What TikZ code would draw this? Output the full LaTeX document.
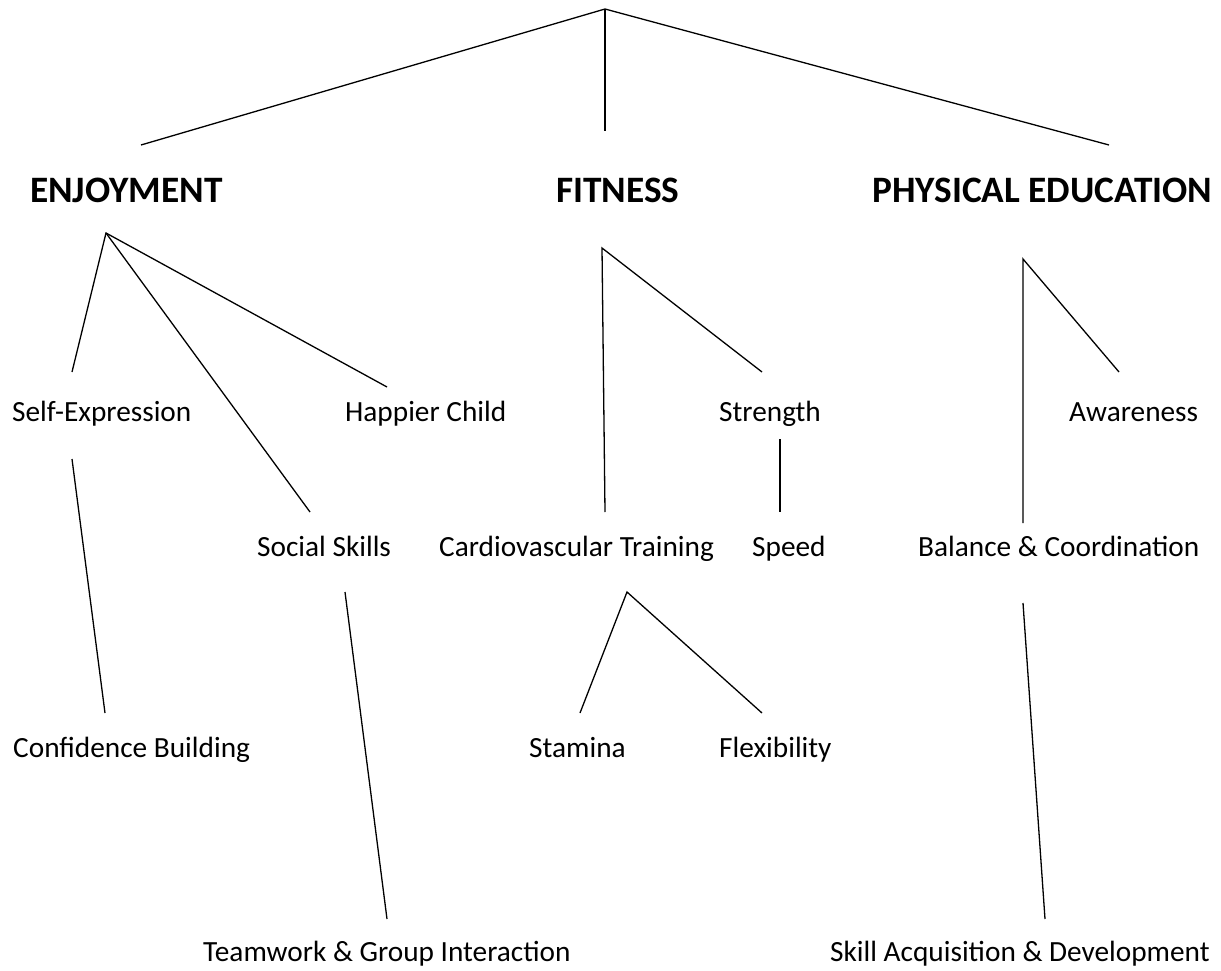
\documentclass[tikz,border=0pt]{standalone}
\usepackage{fontspec}
\setmainfont{Carlito}
\begin{document}
\begin{tikzpicture}[x=1pt,y=-1pt,
  conn/.style={line width=1.3pt,black},
  lbl/.style={anchor=base west,inner sep=0pt,font=\fontsize{29.3}{34}\selectfont},
  head/.style={anchor=base west,inner sep=0pt,font=\fontsize{37.3}{44}\selectfont\bfseries}]
\useasboundingbox (0,0) rectangle (1221,971);
% headings
\node[head] (enj) at (30,202) {ENJOYMENT};
\node[head] (fit) at (556,202) {FITNESS};
\node[head] (pe) at (872,202) {PHYSICAL EDUCATION};
% labels
\node[lbl] (self) at (12,421) {Self-Expression};
\node[lbl] (happy) at (345,421) {Happier Child};
\node[lbl] (str) at (719,421) {Strength};
\node[lbl] (aware) at (1069,421) {Awareness};
\node[lbl] (social) at (257,556) {Social Skills};
\node[lbl] (cardio) at (439,556) {Cardiovascular Training};
\node[lbl] (speed) at (752,556) {Speed};
\node[lbl] (bal) at (918,556) {Balance \& Coordination};
\node[lbl] (conf) at (13,757) {Confidence Building};
\node[lbl] (stam) at (529,757) {Stamina};
\node[lbl] (flex) at (719,757) {Flexibility};
\node[lbl] (team) at (203,961) {Teamwork \& Group Interaction};
\node[lbl] (skill) at (830,961) {Skill Acquisition \& Development};
% connector end points
\coordinate (root) at (605,9);
\coordinate (rE) at (141,145);
\coordinate (rF) at (605,131);
\coordinate (rP) at (1109,145);
\coordinate (eA) at (106,233);
\coordinate (eS) at (72,372);
\coordinate (eSo) at (310,512);
\coordinate (eH) at (387,387);
\coordinate (sTop) at (72,459);
\coordinate (cBot) at (105,713);
\coordinate (soTop) at (345,592);
\coordinate (tBot) at (387,919);
\coordinate (fA) at (602,248);
\coordinate (fC) at (605,512);
\coordinate (fS) at (762,372);
\coordinate (stTop) at (780,439);
\coordinate (spBot) at (780,512);
\coordinate (cA) at (627,592);
\coordinate (cSt) at (580,713);
\coordinate (cFl) at (762,713);
\coordinate (pA) at (1023,259);
\coordinate (pB) at (1023,523);
\coordinate (pAw) at (1119,372);
\coordinate (bTop) at (1023,603);
\coordinate (skBot) at (1045,919);
% connectors
\draw[conn] (rE) -- (root) -- (rP);
\draw[conn] (root) -- (rF);
\draw[conn] (eS) -- (eA) -- (eH);
\draw[conn] (eA) -- (eSo);
\draw[conn] (sTop) -- (cBot);
\draw[conn] (soTop) -- (tBot);
\draw[conn] (fC) -- (fA) -- (fS);
\draw[conn] (stTop) -- (spBot);
\draw[conn] (cSt) -- (cA) -- (cFl);
\draw[conn] (pB) -- (pA) -- (pAw);
\draw[conn] (bTop) -- (skBot);
\end{tikzpicture}
\end{document}
